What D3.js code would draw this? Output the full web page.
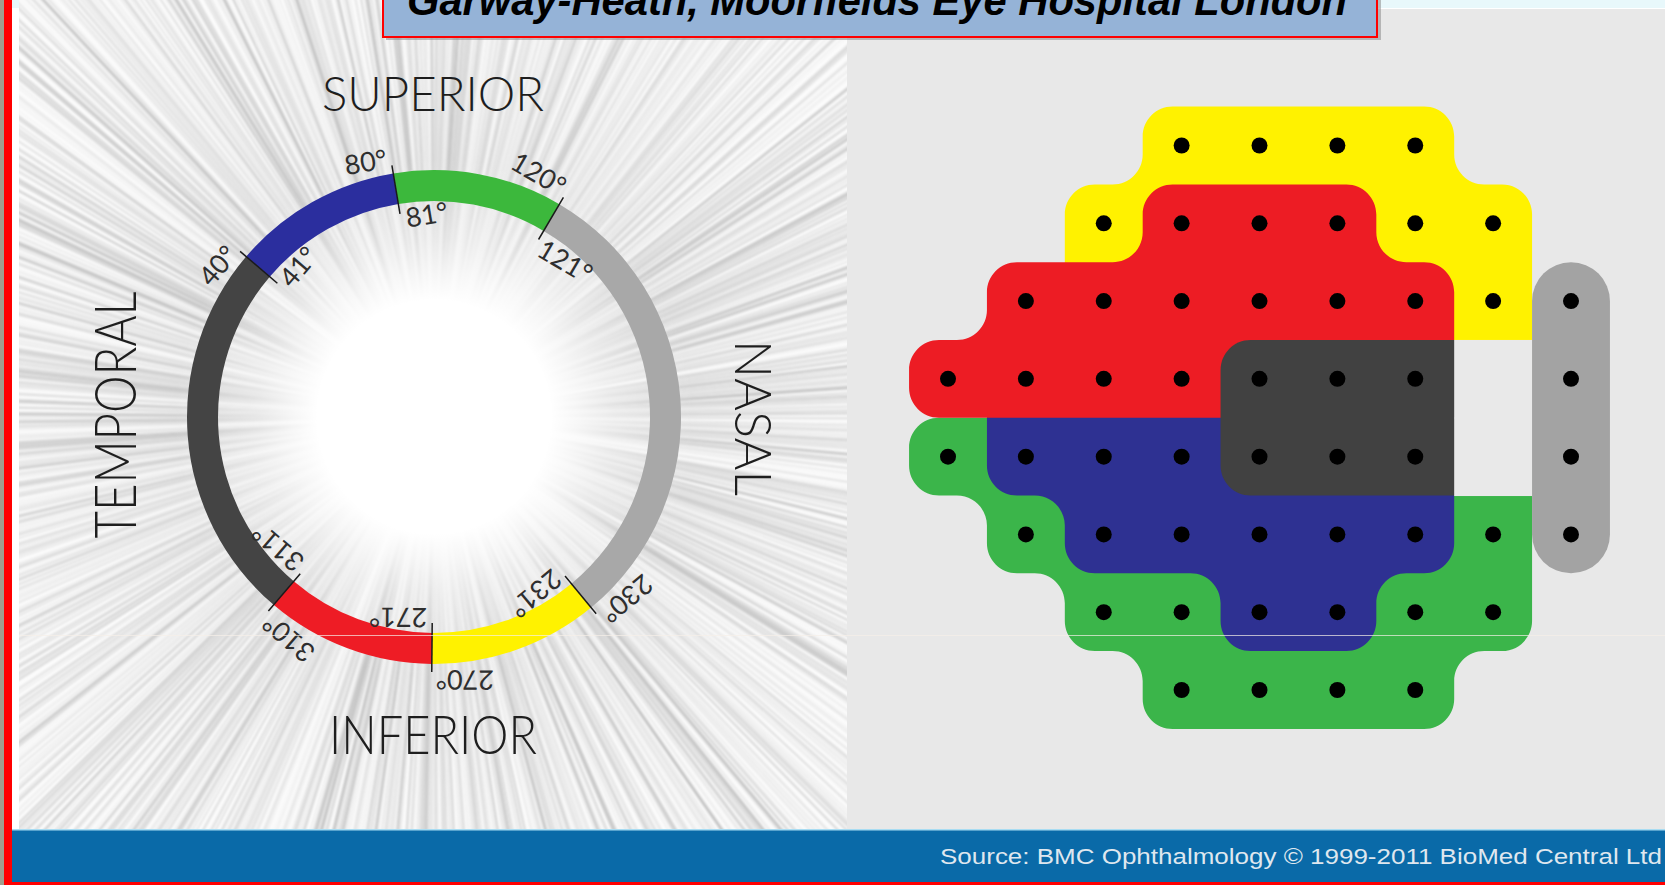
<!DOCTYPE html>
<html><head><meta charset="utf-8">
<script src="https://cdn.jsdelivr.net/npm/d3@7"></script>
<style>html,body{margin:0;padding:0;background:#fff;overflow:hidden}</style>
</head><body>
<script>
// ---------- DATA ----------
const titleText = "Garway-Heath, Moorfields Eye Hospital London";
const sourceText = "Source: BMC Ophthalmology \u00a9 1999-2011 BioMed Central Ltd";
const regionLabels = ["SUPERIOR", "NASAL", "INFERIOR", "TEMPORAL"];
const regionAngles = [90, 180, 270, 0];          // TSNIT degrees
const sectorCodes = ["T", "B", "G", "N", "Y", "R"]; // temporal, sup-temporal, sup-nasal, nasal, inf-nasal, inf-temporal
const sectorStartDeg = [311, 41, 81, 121, 231, 271];
const sectorEndDeg   = [40, 80, 120, 230, 270, 310];
// visual field test points (24-2 grid), letter = ONH sector it maps to
const fieldMap = [
  "...YYYY..",
  "..YRRRYY.",
  ".RRRRRRYN",
  "RRRRTTT.N",
  "GBBBTTT.N",
  ".GBBBBBGN",
  "..GGBBGG.",
  "...GGGG.."
];

// ---------- STYLE ----------
const ringColors = {T:"#444444", B:"#2b2e9e", G:"#3cb83c", N:"#a8a8a8", Y:"#fff200", R:"#ee1c25"};
const mapColors  = {T:"#414141", B:"#2e3192", G:"#3bb54a", N:"#a3a3a3", Y:"#fff200", R:"#ed1c24"};
const W = 1665, H = 885;

const svg = d3.select("body").append("svg").attr("width", W).attr("height", H);
const defs = svg.append("defs");

// page frame
svg.append("rect").attr("x",0).attr("y",0).attr("width",W).attr("height",H).attr("fill","#ffffff");
svg.append("rect").attr("x",0).attr("y",0).attr("width",W).attr("height",8).attr("fill","#e8f8fb");

// ---------- LEFT PANEL (ONH ring) ----------
const P = {x0:19, x1:847, y0:0, y1:829};
const cx = 434, cy = 417, rOut = 247, rIn = 216;
defs.append("clipPath").attr("id","leftClip").append("rect")
  .attr("x",P.x0).attr("y",P.y0).attr("width",P.x1-P.x0).attr("height",P.y1-P.y0);
defs.append("filter").attr("id","soft").append("feGaussianBlur").attr("stdDeviation",0.9);
const rg = defs.append("radialGradient").attr("id","centerGlow")
  .attr("gradientUnits","userSpaceOnUse").attr("cx",cx).attr("cy",cy).attr("r",260);
[[0,1],[0.45,1],[0.55,0.8],[0.68,0.5],[0.85,0.2],[1,0]].forEach(s=>
  rg.append("stop").attr("offset",s[0]).attr("stop-color","#fff").attr("stop-opacity",s[1]));

const left = svg.append("g").attr("clip-path","url(#leftClip)");
left.append("rect").attr("x",P.x0).attr("y",P.y0).attr("width",P.x1-P.x0).attr("height",P.y1-P.y0).attr("fill","#fbfbfb");
// decorative radial streak texture (deterministic hash)
const hash = (i,k)=>{const s=Math.sin(i*127.1+k*311.7)*43758.5453;return s-Math.floor(s);};
const rays = d3.range(950);
left.append("g").attr("filter","url(#soft)").selectAll("line").data(rays).join("line")
  .each(function(i){
    const a = i/rays.length*2*Math.PI + (hash(i,1)-0.5)*0.008;
    const r0 = 40 + hash(i,2)*80, r1 = 900;
    d3.select(this).attr("x1",cx+r0*Math.cos(a)).attr("y1",cy+r0*Math.sin(a))
      .attr("x2",cx+r1*Math.cos(a)).attr("y2",cy+r1*Math.sin(a));
  })
  .attr("stroke",i=>{const g=Math.round(180+hash(i,3)*55);return `rgb(${g},${g},${g})`;})
  .attr("stroke-width",i=>0.6+hash(i,4)*3.0)
  .attr("stroke-opacity",i=>0.3+hash(i,5)*0.5);
left.append("circle").attr("cx",cx).attr("cy",cy).attr("r",260).attr("fill","url(#centerGlow)");

// ring
const toD3 = d => (d - 90) * Math.PI / 180;   // TSNIT deg -> d3 angle (rad)
const arc = d3.arc().innerRadius(rIn).outerRadius(rOut);
const sectors = sectorCodes.map((c,i)=>{
  const s = sectorStartDeg[i]-0.5; let e = sectorEndDeg[i]+0.5;
  const s2 = e < s ? s - 360 : s;
  return {code:c, start:s2, end:e, startLbl:sectorStartDeg[i], endLbl:sectorEndDeg[i]};
});
const ringG = svg.append("g").attr("transform",`translate(${cx},${cy})`);
ringG.selectAll("path.seg").data(sectors).join("path").attr("class","seg")
  .attr("d",d=>arc({startAngle:toD3(d.start), endAngle:toD3(d.end)}))
  .attr("fill",d=>ringColors[d.code]);
// boundary ticks
const bounds = sectors.map(d=>d.end);
ringG.selectAll("line.tick").data(bounds).join("line").attr("class","tick")
  .attr("x1",d=>(rIn-10)*Math.sin(toD3(d))).attr("y1",d=>-(rIn-10)*Math.cos(toD3(d)))
  .attr("x2",d=>(rOut+8)*Math.sin(toD3(d))).attr("y2",d=>-(rOut+8)*Math.cos(toD3(d)))
  .attr("stroke","#1a1a1a").attr("stroke-width",1.5);
// degree labels
const lblFont = "Lato, 'DejaVu Sans', sans-serif";
const outerR = rOut + 6, innerR = rIn - 25;
function placeLabel(deg, R, text, anchor, dx){
  const a = toD3(deg);
  ringG.append("text")
    .attr("transform",`translate(${R*Math.sin(a)},${-R*Math.cos(a)}) rotate(${a*180/Math.PI})`)
    .attr("text-anchor",anchor).attr("dx",dx)
    .attr("font-family",lblFont).attr("font-weight",400).attr("font-size",27).attr("fill","#2e2e2e")
    .text(text);
}
sectors.forEach(d=>{
  placeLabel(d.end, outerR, d.endLbl+"\u00b0", "end", -4);
  placeLabel(d.start, innerR, d.startLbl+"\u00b0", "start", 5);
});
// region labels
const regionStyle = [
  {x:433, y:111, rot:0,  size:47, len:222},
  {x:735, y:418, rot:90, size:52, len:156},
  {x:433, y:754, rot:0,  size:53, len:208},
  {x:136, y:415, rot:-90,size:57, len:247}
];
regionLabels.forEach((t,i)=>{
  const s = regionStyle[i];
  svg.append("text").attr("transform",`translate(${s.x},${s.y}) rotate(${s.rot})`)
    .attr("text-anchor","middle").attr("font-family",lblFont).attr("font-weight",300)
    .attr("font-size",s.size).attr("fill","#1e1e1e")
    .attr("textLength",s.len).attr("lengthAdjust","spacingAndGlyphs").text(t);
});

// ---------- RIGHT PANEL (visual field map) ----------
svg.append("rect").attr("x",847).attr("y",9).attr("width",W-847).attr("height",829-9).attr("fill","#e8e8e8");
const nCols = fieldMap[0].length, nRows = fieldMap.length;
const xs = d3.scaleLinear().domain([0,nCols-1]).range([948,1571]);
const ys = d3.scaleLinear().domain([0,nRows-1]).range([145.5,690]);
const px = X => xs(X/2), py = Y => ys(Y/2);   // doubled grid units -> pixels

function roundedUnion(runs, rad){
  const edges = new Map();
  const add = (a,b)=>{const k=a+"|"+b, kr=b+"|"+a; if(edges.has(kr)) edges.delete(kr); else edges.set(k,[a,b]);};
  runs.forEach(([row,c0,c1])=>{for(let c=c0;c<=c1;c++){
    const x0=2*c-1,x1=2*c+1,y0=2*row-1,y1=2*row+1;
    add(`${x0},${y0}`,`${x1},${y0}`); add(`${x1},${y0}`,`${x1},${y1}`);
    add(`${x1},${y1}`,`${x0},${y1}`); add(`${x0},${y1}`,`${x0},${y0}`);
  }});
  const next = new Map();
  edges.forEach(([a,b])=>{ if(!next.has(a)) next.set(a,[]); next.get(a).push(b); });
  const used = new Set(); let d = "";
  edges.forEach(([a0,b0])=>{
    if(used.has(a0+"|"+b0)) return;
    const loop=[]; let a=a0, b=b0;
    while(!used.has(a+"|"+b)){ used.add(a+"|"+b); loop.push(a); a=b; const nb=next.get(a).find(n=>!used.has(a+"|"+n)); if(!nb) break; b=nb; }
    let pts = loop.map(s=>{const [X,Y]=s.split(",").map(Number);return [px(X),py(Y)];});
    pts = pts.filter((p,i)=>{const pr=pts[(i-1+pts.length)%pts.length], nx=pts[(i+1)%pts.length];
      return Math.abs((p[0]-pr[0])*(nx[1]-p[1])-(p[1]-pr[1])*(nx[0]-p[0]))>1e-6;});
    const n=pts.length;
    pts.forEach((v,i)=>{
      const pr=pts[(i-1+n)%n], nx=pts[(i+1)%n];
      const l1=Math.hypot(pr[0]-v[0],pr[1]-v[1]), l2=Math.hypot(nx[0]-v[0],nx[1]-v[1]);
      const r=Math.min(rad,l1/2,l2/2);
      const A=[v[0]+(pr[0]-v[0])*r/l1, v[1]+(pr[1]-v[1])*r/l1];
      const B=[v[0]+(nx[0]-v[0])*r/l2, v[1]+(nx[1]-v[1])*r/l2];
      // circular-ish corner via cubic (kappa)
      const k=0.5523;
      const C1=[A[0]+(v[0]-A[0])*k, A[1]+(v[1]-A[1])*k];
      const C2=[B[0]+(v[0]-B[0])*k, B[1]+(v[1]-B[1])*k];
      d += (i===0?"M":"L")+A[0]+","+A[1]+"C"+C1[0]+","+C1[1]+" "+C2[0]+","+C2[1]+" "+B[0]+","+B[1];
    });
    d += "Z";
  });
  return d;
}
// drawing layers (row, firstCol, lastCol) incl. hidden underlay so visible corners match
const layers = [
  {code:"Y", runs:[[0,3,6],[1,2,7],[2,2,7],[3,4,7]]},
  {code:"G", runs:[[4,0,7],[5,1,7],[6,2,7],[7,3,6]]},
  {code:"B", runs:[[3,1,6],[4,1,6],[5,2,6],[6,4,5]]},
  {code:"R", runs:[[1,3,5],[2,1,6],[3,0,6]]},
  {code:"T", runs:[[3,4,7],[4,4,7]]}
];
const mapG = svg.append("g");
mapG.selectAll("path.layer").data(layers).join("path").attr("class","layer")
  .attr("d",d=>roundedUnion(d.runs,30)).attr("fill",d=>mapColors[d.code]);
// empty cells within the map column 7 (blind spot area)
const pitchX = xs(1)-xs(0), pitchY = ys(1)-ys(0);
const emptyCells = [];
fieldMap.forEach((row,r)=>row.split("").forEach((ch,c)=>{ if(ch==="." && c===7 && r>0 && r<nRows-1) emptyCells.push([r,c]); }));
mapG.selectAll("rect.gap").data(emptyCells).join("rect").attr("class","gap")
  .attr("x",d=>xs(d[1])-pitchX/2).attr("y",d=>ys(d[0])-pitchY/2)
  .attr("width",pitchX).attr("height",pitchY+0.5).attr("fill","#e9e9e9");
// nasal pill
const nCells = [];
fieldMap.forEach((row,r)=>row.split("").forEach((ch,c)=>{ if(ch==="N") nCells.push([r,c]); }));
const nr = d3.extent(nCells,d=>d[0]), nc = nCells[0][1];
mapG.append("rect").attr("x",xs(nc)-pitchX/2).attr("y",ys(nr[0])-pitchY/2)
  .attr("width",pitchX).attr("height",ys(nr[1])-ys(nr[0])+pitchY)
  .attr("rx",pitchX/2).attr("fill",mapColors.N);
// test points
const pts = [];
fieldMap.forEach((row,r)=>row.split("").forEach((ch,c)=>{ if(ch!==".") pts.push({r,c,code:ch}); }));
mapG.selectAll("circle.pt").data(pts).join("circle").attr("class","pt")
  .attr("cx",d=>xs(d.c)).attr("cy",d=>ys(d.r)).attr("r",8).attr("fill","#000");

// faint scan line artefact
svg.append("line").attr("x1",19).attr("x2",W).attr("y1",635.5).attr("y2",635.5)
  .attr("stroke","#f6f0e8").attr("stroke-width",1).attr("stroke-opacity",0.7);

// ---------- TITLE BOX ----------
svg.append("rect").attr("x",386).attr("y",-20).attr("width",995).attr("height",60).attr("fill","#8a8a8a").attr("opacity",0.55);
svg.append("rect").attr("x",383).attr("y",-20).attr("width",994).attr("height",57)
  .attr("fill","#95b3d7").attr("stroke","#ff0000").attr("stroke-width",2);
svg.append("text").attr("x",407).attr("y",15).attr("font-family","'Liberation Sans Narrow','Liberation Sans',Arial,sans-serif")
  .attr("font-weight","bold").attr("font-style","italic").attr("font-size",42).attr("fill","#000")
  .attr("textLength",940).attr("lengthAdjust","spacingAndGlyphs").text(titleText);

// ---------- FOOTER ----------
svg.append("rect").attr("x",12).attr("y",829).attr("width",W-12).attr("height",54).attr("fill","#0a6aa8");
svg.append("rect").attr("x",12).attr("y",829).attr("width",W-12).attr("height",1.5).attr("fill","#a8dcf2");
svg.append("text").attr("x",1662).attr("y",864).attr("text-anchor","end")
  .attr("font-family","'Liberation Sans',Arial,sans-serif").attr("font-size",22).attr("fill","#dfe7ef")
  .attr("textLength",722).attr("lengthAdjust","spacingAndGlyphs").text(sourceText);
svg.append("rect").attr("x",0).attr("y",882).attr("width",W).attr("height",3).attr("fill","#ff0000");
// left frame bars
svg.append("rect").attr("x",0).attr("y",0).attr("width",4).attr("height",H).attr("fill","#a19f8f");
svg.append("rect").attr("x",4).attr("y",0).attr("width",8).attr("height",H).attr("fill","#ff0000");
</script>
</body></html>
